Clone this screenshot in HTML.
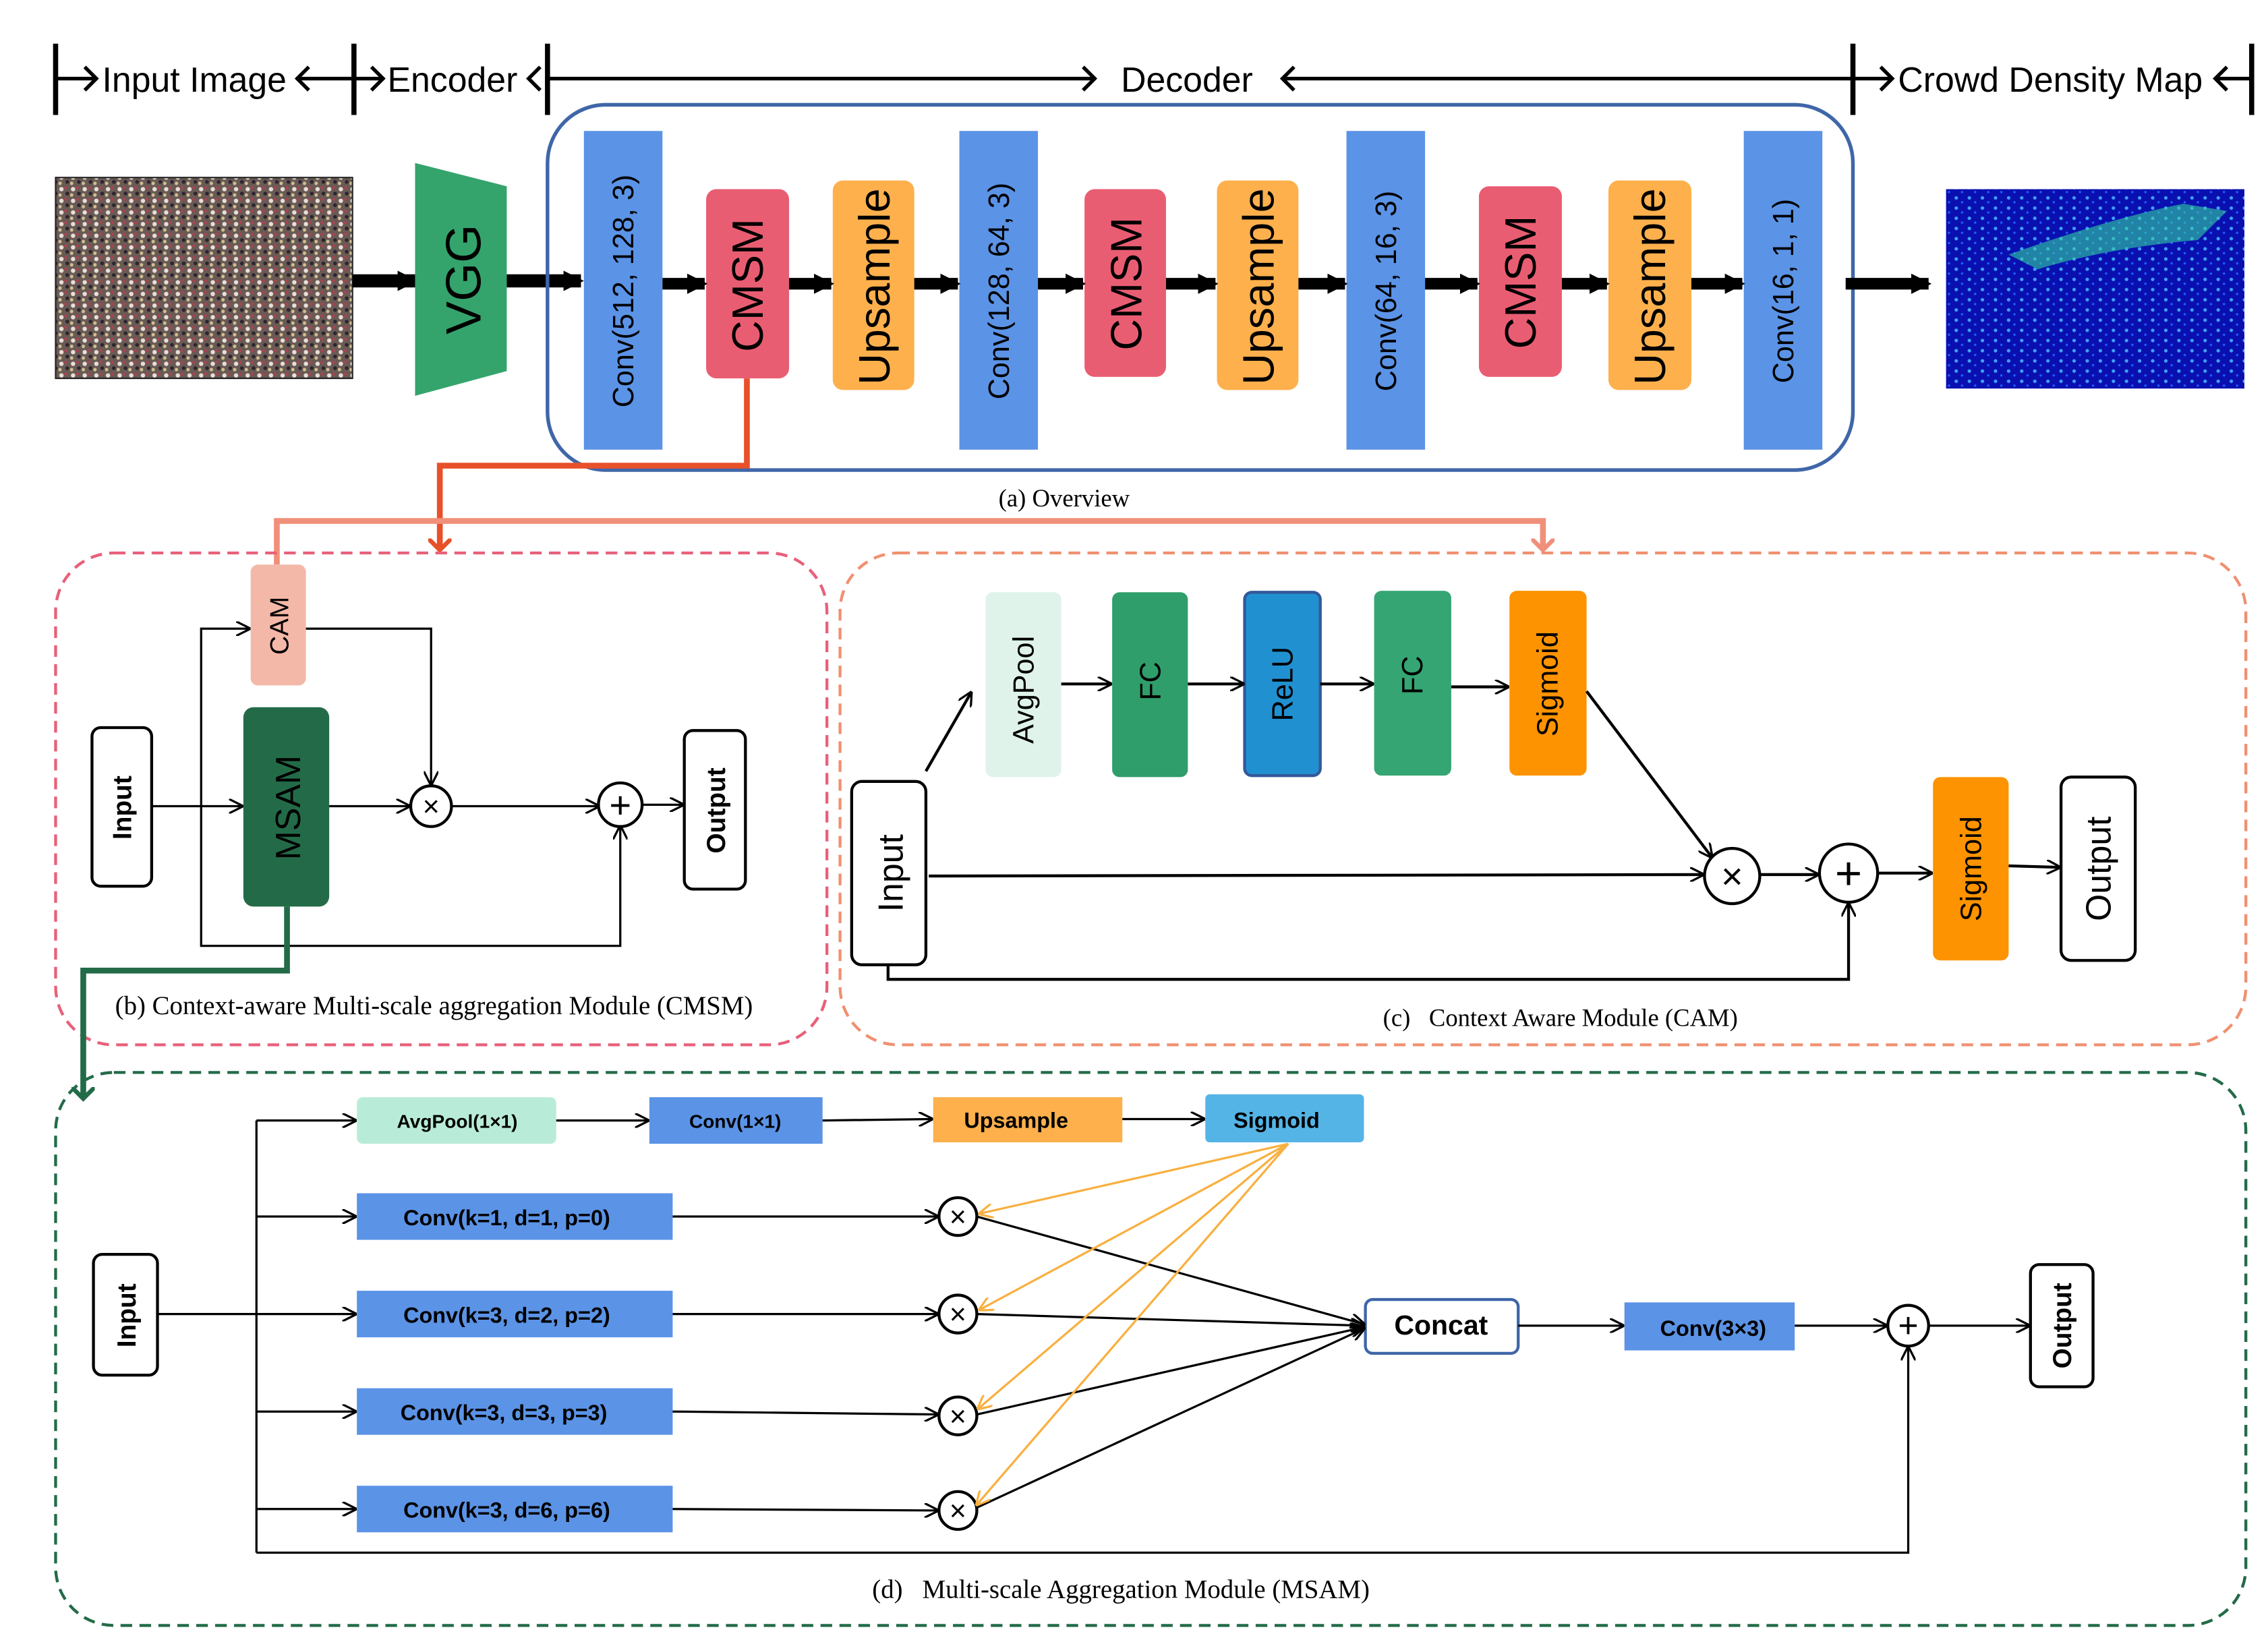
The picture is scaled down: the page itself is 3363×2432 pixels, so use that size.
<!DOCTYPE html>
<html><head><meta charset="utf-8">
<style>
html,body{margin:0;padding:0;background:#fff;}
svg{display:block;}
text{font-family:"Liberation Sans",sans-serif;}
.serif{font-family:"Liberation Serif",serif;}
.nar{font-family:"Liberation Sans Narrow","Liberation Sans",sans-serif;}
</style></head><body>
<svg width="3363" height="2432" viewBox="0 0 1558 1127" xmlns="http://www.w3.org/2000/svg">
<defs>
<marker id="ab" markerWidth="10" markerHeight="10" refX="9" refY="5" orient="auto" markerUnits="userSpaceOnUse"><path d="M0,0 L10,5 L0,10" fill="none" stroke="#000" stroke-width="1.5"/></marker>
<marker id="ao" markerWidth="10" markerHeight="10" refX="9" refY="5" orient="auto" markerUnits="userSpaceOnUse"><path d="M0,0 L10,5 L0,10" fill="none" stroke="#f8b040" stroke-width="1.5"/></marker>
<marker id="big" markerWidth="14" markerHeight="14" refX="12" refY="7" orient="auto" markerUnits="userSpaceOnUse"><path d="M0,0 L14,7 L0,14 z" fill="#000"/></marker>
<marker id="ar" markerWidth="16" markerHeight="16" refX="8" refY="8" orient="auto" markerUnits="userSpaceOnUse"><path d="M0,0 L8,8 L0,16" fill="none" stroke="#e8502a" stroke-width="3"/></marker>
<marker id="as" markerWidth="16" markerHeight="16" refX="8" refY="8" orient="auto" markerUnits="userSpaceOnUse"><path d="M0,0 L8,8 L0,16" fill="none" stroke="#f0907a" stroke-width="3"/></marker>
<marker id="ag" markerWidth="16" markerHeight="16" refX="8" refY="8" orient="auto" markerUnits="userSpaceOnUse"><path d="M0,0 L8,8 L0,16" fill="none" stroke="#236b48" stroke-width="3"/></marker>
<pattern id="crowd" width="8" height="8" patternUnits="userSpaceOnUse">
<rect width="8" height="8" fill="#6a5a55"/><circle cx="2" cy="2" r="1.5" fill="#e8e0d8"/><circle cx="6" cy="5" r="1.3" fill="#2a2530"/><circle cx="5" cy="1" r="1" fill="#b04050"/><circle cx="1" cy="6" r="1.2" fill="#d0c090"/>
</pattern>
<pattern id="dens" width="9" height="7" patternUnits="userSpaceOnUse">
<rect width="9" height="7" fill="#0a10b0"/><circle cx="3" cy="3" r="1.2" fill="#40a0ff"/><circle cx="7" cy="6" r="0.8" fill="#2060ff"/>
</pattern>
</defs>

<g stroke="#000" stroke-width="3.5">
<line x1="38" y1="30" x2="38" y2="79"/><line x1="243" y1="30" x2="243" y2="79"/><line x1="376" y1="30" x2="376" y2="79"/><line x1="1273" y1="30" x2="1273" y2="79"/><line x1="1547" y1="30" x2="1547" y2="79"/>
</g>
<g stroke="#000" stroke-width="2.5" fill="none">
<line x1="38" y1="54" x2="66" y2="54"/><path d="M58,46 L66,54 L58,62"/>
<line x1="205" y1="54" x2="243" y2="54"/><path d="M212,46 L204,54 L212,62"/>
<line x1="243" y1="54" x2="263" y2="54"/><path d="M255,46 L263,54 L255,62"/>
<path d="M371,46 L363,54 L371,62"/>
<line x1="376" y1="54" x2="752" y2="54"/><path d="M744,46 L752,54 L744,62"/>
<line x1="882" y1="54" x2="1273" y2="54"/><path d="M889,46 L881,54 L889,62"/>
<line x1="1273" y1="54" x2="1300" y2="54"/><path d="M1292,46 L1300,54 L1292,62"/>
<line x1="1522" y1="54" x2="1547" y2="54"/><path d="M1530,46 L1522,54 L1530,62"/>
</g>
<g font-size="24" class="nar">
<text x="70" y="63" class="nar">Input Image</text>
<text x="266" y="63" class="nar">Encoder</text>
<text x="770" y="63" class="nar">Decoder</text>
<text x="1304" y="63" class="nar">Crowd Density Map</text>
</g>

<rect x="38" y="122" width="204" height="138" fill="url(#crowd)" stroke="#222" stroke-width="1"/>
<line x1="242" y1="193" x2="285" y2="193" stroke="#000" stroke-width="9" marker-end="url(#big)"/>
<polygon points="285,112 348,128 348,255 285,272" fill="#34a46c"/>
<text transform="translate(330,192) rotate(-90)" font-size="34" text-anchor="middle">VGG</text>
<line x1="348" y1="193" x2="399" y2="193" stroke="#000" stroke-width="9" marker-end="url(#big)"/>

<rect x="376" y="72" width="897" height="251" rx="40" fill="none" stroke="#3f66a8" stroke-width="2.5"/>
<g fill="#5b93e6">
<rect x="401" y="90" width="54" height="219"/><rect x="659" y="90" width="54" height="219"/><rect x="925" y="90" width="54" height="219"/><rect x="1198" y="90" width="54" height="219"/>
</g>
<g fill="#e95d72"><rect x="485" y="130" width="57" height="130" rx="7"/><rect x="745" y="130" width="56" height="129" rx="7"/><rect x="1016" y="128" width="57" height="131" rx="7"/></g>
<g fill="#fdb04c"><rect x="572" y="124" width="56" height="144" rx="7"/><rect x="836" y="124" width="56" height="144" rx="7"/><rect x="1105" y="124" width="57" height="144" rx="7"/></g>
<g font-size="20" text-anchor="middle">
<text transform="translate(435,200) rotate(-90)">Conv(512, 128, 3)</text>
<text transform="translate(693,200) rotate(-90)">Conv(128, 64, 3)</text>
<text transform="translate(959,200) rotate(-90)">Conv(64, 16, 3)</text>
<text transform="translate(1232,200) rotate(-90)">Conv(16, 1, 1)</text>
</g>
<g font-size="30" text-anchor="middle">
<text transform="translate(524,196) rotate(-90)">CMSM</text>
<text transform="translate(784,195) rotate(-90)">CMSM</text>
<text transform="translate(1055,194) rotate(-90)">CMSM</text>
<text transform="translate(611,197) rotate(-90)">Upsample</text>
<text transform="translate(875,197) rotate(-90)">Upsample</text>
<text transform="translate(1144,197) rotate(-90)">Upsample</text>
</g>
<g stroke="#000" stroke-width="8" marker-end="url(#big)">
<line x1="455" y1="195" x2="484" y2="195"/><line x1="542" y1="195" x2="571" y2="195"/><line x1="628" y1="195" x2="658" y2="195"/>
<line x1="713" y1="195" x2="744" y2="195"/><line x1="801" y1="195" x2="835" y2="195"/><line x1="892" y1="195" x2="924" y2="195"/>
<line x1="979" y1="195" x2="1015" y2="195"/><line x1="1073" y1="195" x2="1104" y2="195"/><line x1="1162" y1="195" x2="1197" y2="195"/>
<line x1="1268" y1="195" x2="1325" y2="195"/>
</g>
<rect x="1337" y="130" width="205" height="137" fill="url(#dens)"/>
<path d="M1380,175 Q1450,150 1500,140 L1530,145 L1510,165 Q1450,170 1400,185 z" fill="#30d0a0" opacity="0.6"/>
<text x="731" y="348" class="serif" font-size="17" text-anchor="middle">(a) Overview</text>

<polyline points="513,260 513,320 302,320 302,378" fill="none" stroke="#e8502a" stroke-width="4" marker-end="url(#ar)"/>
<polyline points="190,388 190,358 1060,358 1060,378" fill="none" stroke="#f0907a" stroke-width="4" marker-end="url(#as)"/>

<rect x="38" y="380" width="530" height="338" rx="40" fill="none" stroke="#e8607a" stroke-width="2" stroke-dasharray="8,5"/>
<rect x="172" y="388" width="38" height="83" rx="5" fill="#f4b8a8"/>
<text transform="translate(198,430) rotate(-90)" font-size="18" text-anchor="middle">CAM</text>
<rect x="167" y="486" width="59" height="137" rx="7" fill="#236b48"/>
<text transform="translate(206,555) rotate(-90)" font-size="24" text-anchor="middle" fill="#000">MSAM</text>
<rect x="63" y="500" width="41" height="109" rx="6" fill="#fff" stroke="#000" stroke-width="2"/>
<text transform="translate(90,555) rotate(-90)" font-size="18" font-weight="bold" text-anchor="middle">Input</text>
<rect x="470" y="502" width="42" height="109" rx="6" fill="#fff" stroke="#000" stroke-width="2"/>
<text transform="translate(498,557) rotate(-90)" font-size="18" font-weight="bold" text-anchor="middle">Output</text>
<g fill="none" stroke="#000" stroke-width="1.5">
<line x1="104" y1="554" x2="166" y2="554" marker-end="url(#ab)"/>
<polyline points="138,554 138,432 171,432" marker-end="url(#ab)"/>
<polyline points="210,432 296,432 296,539" marker-end="url(#ab)"/>
<line x1="226" y1="554" x2="281" y2="554" marker-end="url(#ab)"/>
<line x1="310" y1="554" x2="411" y2="554" marker-end="url(#ab)"/>
<line x1="441" y1="553" x2="469" y2="553" marker-end="url(#ab)"/>
<polyline points="138,554 138,650 426,650 426,568" marker-end="url(#ab)"/>
<circle cx="296" cy="554" r="14" stroke-width="2"/><circle cx="426" cy="553" r="15" stroke-width="2"/>
</g>
<text x="296" y="561" font-size="20" text-anchor="middle">×</text>
<text x="426" y="562" font-size="26" text-anchor="middle">+</text>
<text x="298" y="697" class="serif" font-size="18" text-anchor="middle">(b) Context-aware Multi-scale aggregation Module (CMSM)</text>
<polyline points="197,623 197,667 57,667 57,755" fill="none" stroke="#236b48" stroke-width="4" marker-end="url(#ag)"/>

<rect x="577" y="380" width="966" height="338" rx="40" fill="none" stroke="#f09070" stroke-width="2" stroke-dasharray="8,5"/>
<rect x="677" y="407" width="52" height="127" rx="5" fill="#dff3ea"/>
<rect x="764" y="407" width="52" height="127" rx="5" fill="#2f9e6a"/>
<rect x="855" y="407" width="52" height="126" rx="5" fill="#2190d0" stroke="#33589a" stroke-width="2"/>
<rect x="944" y="406" width="53" height="127" rx="5" fill="#35a673"/>
<rect x="1037" y="406" width="53" height="127" rx="5" fill="#fd9300"/>
<rect x="1328" y="534" width="52" height="126" rx="5" fill="#fd9300"/>
<rect x="585" y="537" width="51" height="126" rx="7" fill="#fff" stroke="#000" stroke-width="2"/>
<rect x="1416" y="534" width="51" height="126" rx="7" fill="#fff" stroke="#000" stroke-width="2"/>
<g font-size="20" text-anchor="middle">
<text transform="translate(710,474) rotate(-90)">AvgPool</text>
<text transform="translate(797,468) rotate(-90)">FC</text>
<text transform="translate(888,470) rotate(-90)">ReLU</text>
<text transform="translate(977,464) rotate(-90)">FC</text>
<text transform="translate(1070,470) rotate(-90)">Sigmoid</text>
<text transform="translate(1361,597) rotate(-90)">Sigmoid</text>
<text transform="translate(620,600) rotate(-90)" font-size="24">Input</text>
<text transform="translate(1450,597) rotate(-90)" font-size="24">Output</text>
</g>
<g fill="none" stroke="#000" stroke-width="2">
<line x1="636" y1="530" x2="667" y2="476" marker-end="url(#ab)"/>
<line x1="729" y1="470" x2="763" y2="470" marker-end="url(#ab)"/>
<line x1="816" y1="470" x2="854" y2="470" marker-end="url(#ab)"/>
<line x1="907" y1="470" x2="943" y2="470" marker-end="url(#ab)"/>
<line x1="997" y1="472" x2="1036" y2="472" marker-end="url(#ab)"/>
<line x1="1090" y1="475" x2="1176" y2="589" marker-end="url(#ab)"/>
<line x1="638" y1="602" x2="1170" y2="601" marker-end="url(#ab)"/>
<line x1="1209" y1="601" x2="1249" y2="601" marker-end="url(#ab)"/>
<line x1="1290" y1="600" x2="1327" y2="600" marker-end="url(#ab)"/>
<line x1="1380" y1="595" x2="1415" y2="596" marker-end="url(#ab)"/>
<polyline points="610,663 610,673 1270,673 1270,621" marker-end="url(#ab)"/>
<circle cx="1190" cy="602" r="19"/><circle cx="1270" cy="600" r="20"/>
</g>
<text x="1190" y="611" font-size="26" text-anchor="middle">×</text>
<text x="1270" y="611" font-size="32" text-anchor="middle">+</text>
<text x="1072" y="705" class="serif" font-size="17" text-anchor="middle" xml:space="preserve">(c)   Context Aware Module (CAM)</text>

<rect x="38" y="737" width="1505" height="380" rx="40" fill="none" stroke="#236b48" stroke-width="2" stroke-dasharray="8,5"/>
<rect x="64" y="862" width="44" height="83" rx="6" fill="#fff" stroke="#000" stroke-width="2"/>
<text transform="translate(93,904) rotate(-90)" font-size="18" font-weight="bold" text-anchor="middle">Input</text>
<rect x="1395" y="869" width="43" height="84" rx="6" fill="#fff" stroke="#000" stroke-width="2"/>
<text transform="translate(1423,911) rotate(-90)" font-size="18" font-weight="bold" text-anchor="middle">Output</text>
<rect x="245" y="754" width="137" height="32" rx="4" fill="#b9ecd8"/>
<rect x="446" y="754" width="119" height="32" fill="#5b93e6"/>
<rect x="641" y="754" width="130" height="31" fill="#fdb04c"/>
<rect x="828" y="752" width="109" height="33" rx="3" fill="#55b4e6"/>
<rect x="245" y="820" width="217" height="32" fill="#5b93e6"/>
<rect x="245" y="887" width="217" height="32" fill="#5b93e6"/>
<rect x="245" y="954" width="217" height="32" fill="#5b93e6"/>
<rect x="245" y="1021" width="217" height="32" fill="#5b93e6"/>
<rect x="938" y="893" width="105" height="37" rx="5" fill="#fff" stroke="#3f66a8" stroke-width="2"/>
<rect x="1116" y="895" width="117" height="33" fill="#5b93e6"/>
<g font-weight="bold" text-anchor="middle" font-size="15">
<text x="314" y="775" font-size="13">AvgPool(1×1)</text>
<text x="505" y="775" font-size="13">Conv(1×1)</text>
<text x="698" y="775">Upsample</text>
<text x="877" y="775">Sigmoid</text>
<text x="348" y="842">Conv(k=1, d=1, p=0)</text>
<text x="348" y="909">Conv(k=3, d=2, p=2)</text>
<text x="346" y="976">Conv(k=3, d=3, p=3)</text>
<text x="348" y="1043">Conv(k=3, d=6, p=6)</text>
<text x="990" y="917" font-size="19">Concat</text>
<text x="1177" y="918">Conv(3×3)</text>
</g>
<g fill="none" stroke="#000" stroke-width="1.5">
<line x1="108" y1="903" x2="176" y2="903"/>
<line x1="176" y1="770" x2="176" y2="1067"/>
<line x1="176" y1="770" x2="244" y2="770" marker-end="url(#ab)"/>
<line x1="176" y1="836" x2="244" y2="836" marker-end="url(#ab)"/>
<line x1="176" y1="903" x2="244" y2="903" marker-end="url(#ab)"/>
<line x1="176" y1="970" x2="244" y2="970" marker-end="url(#ab)"/>
<line x1="176" y1="1037" x2="244" y2="1037" marker-end="url(#ab)"/>
<line x1="382" y1="770" x2="445" y2="770" marker-end="url(#ab)"/>
<line x1="565" y1="770" x2="640" y2="769" marker-end="url(#ab)"/>
<line x1="771" y1="769" x2="827" y2="769" marker-end="url(#ab)"/>
<line x1="462" y1="836" x2="644" y2="836" marker-end="url(#ab)"/>
<line x1="462" y1="903" x2="644" y2="903" marker-end="url(#ab)"/>
<line x1="462" y1="970" x2="644" y2="972" marker-end="url(#ab)"/>
<line x1="462" y1="1037" x2="644" y2="1038" marker-end="url(#ab)"/>
<line x1="671" y1="836" x2="937" y2="910" marker-end="url(#ab)"/>
<line x1="671" y1="903" x2="937" y2="911" marker-end="url(#ab)"/>
<line x1="671" y1="972" x2="937" y2="912" marker-end="url(#ab)"/>
<line x1="671" y1="1036" x2="937" y2="913" marker-end="url(#ab)"/>
<line x1="1043" y1="911" x2="1115" y2="911" marker-end="url(#ab)"/>
<line x1="1233" y1="911" x2="1296" y2="911" marker-end="url(#ab)"/>
<line x1="1325" y1="911" x2="1394" y2="911" marker-end="url(#ab)"/>
<polyline points="176,1067 1311,1067 1311,926" marker-end="url(#ab)"/>
<circle cx="658" cy="836" r="13" stroke-width="2"/><circle cx="658" cy="903" r="13" stroke-width="2"/>
<circle cx="658" cy="973" r="13" stroke-width="2"/><circle cx="658" cy="1038" r="13" stroke-width="2"/>
<circle cx="1311" cy="911" r="14" stroke-width="2"/>
</g>
<g stroke="#f8b040" stroke-width="1.5" fill="none">
<line x1="885" y1="786" x2="673" y2="834" marker-end="url(#ao)"/>
<line x1="885" y1="786" x2="673" y2="900" marker-end="url(#ao)"/>
<line x1="885" y1="786" x2="672" y2="968" marker-end="url(#ao)"/>
<line x1="885" y1="786" x2="671" y2="1034" marker-end="url(#ao)"/>
</g>
<g font-size="20" text-anchor="middle">
<text x="658" y="843">×</text><text x="658" y="910">×</text><text x="658" y="980">×</text><text x="658" y="1045">×</text>
<text x="1311" y="919" font-size="24">+</text>
</g>
<text x="770" y="1098" class="serif" font-size="18" text-anchor="middle" xml:space="preserve">(d)   Multi-scale Aggregation Module (MSAM)</text>
</svg>
</body></html>
